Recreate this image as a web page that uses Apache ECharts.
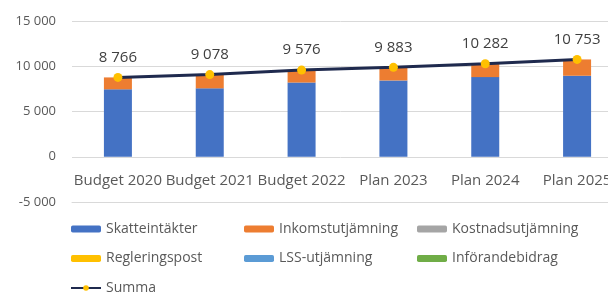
<!DOCTYPE html>
<html>
<head>
<meta charset="utf-8">
<script src="https://cdn.jsdelivr.net/npm/echarts@6/dist/echarts.min.js"></script>
<style>
html, body { margin: 0; padding: 0; background: #fff; }
#chart { width: 608px; height: 293px; }
</style>
</head>
<body>
<div id="chart"></div>
<script>
var categories = ['Budget 2020', 'Budget 2021', 'Budget 2022', 'Plan 2023', 'Plan 2024', 'Plan 2025'];
var skatteintakter = [7450, 7560, 8200, 8430, 8800, 8950];
var inkomstutjamning = [1316, 1518, 1376, 1453, 1482, 1803];
var kostnadsutjamning = [0, 0, 0, 0, 0, 0];
var regleringspost = [0, 0, 0, 0, 0, 0];
var lssUtjamning = [0, 0, 0, 0, 0, 0];
var inforandebidrag = [0, 0, 0, 0, 0, 0];
var summa = [8766, 9078, 9576, 9883, 10282, 10753];
var yTicks = [-5000, 0, 5000, 10000, 15000];

var font = 'Open Sans';
function fmt(v) {
    return String(v).replace(/\B(?=(\d{3})+(?!\d))/g, ' ');
}
function barSeries(name, data, color) {
    return {
        name: name,
        type: 'bar',
        stack: 'total',
        barWidth: 28,
        itemStyle: { color: color },
        data: data
    };
}

var dom = document.getElementById('chart');
var myChart = echarts.init(dom);
var legendText = { color: '#595959', fontFamily: font, fontSize: 14 };
function legendAt(left, names) {
    return {
        left: left, top: 222, height: 90, padding: 0,
        orient: 'vertical', itemGap: 15.5,
        itemWidth: 30, itemHeight: 7, textStyle: legendText,
        data: names
    };
}
var option = {
    animation: false,
    textStyle: { fontFamily: font },
    grid: {
        left: 72, width: 551, top: 21, bottom: 91,
        containLabel: false, outerBoundsMode: 'none'
    },
    legend: [
        legendAt(70, ['Skatteintäkter', 'Regleringspost', 'Summa']),
        legendAt(244, ['Inkomstutjämning', 'LSS-utjämning']),
        legendAt(417, ['Kostnadsutjämning', 'Införandebidrag'])
    ],
    xAxis: {
        type: 'category',
        data: categories,
        axisLine: { onZero: false, lineStyle: { color: '#d9d9d9' } },
        axisTick: { show: false },
        axisLabel: {
            interval: 0, hideOverlap: false, margin: -29,
            color: '#595959', fontSize: 15, fontFamily: font
        }
    },
    yAxis: {
        type: 'value',
        min: yTicks[0],
        max: yTicks[yTicks.length - 1],
        interval: 5000,
        axisLine: { show: false },
        axisTick: { show: false },
        splitLine: { lineStyle: { color: '#d9d9d9' } },
        axisLabel: {
            margin: 16, color: '#595959', fontSize: 13, fontFamily: font,
            formatter: function (v) { return fmt(v); }
        }
    },
    series: [
        barSeries('Skatteintäkter', skatteintakter, '#4472c4'),
        barSeries('Inkomstutjämning', inkomstutjamning, '#ed7d31'),
        barSeries('Kostnadsutjämning', kostnadsutjamning, '#a5a5a5'),
        barSeries('Regleringspost', regleringspost, '#ffc000'),
        barSeries('LSS-utjämning', lssUtjamning, '#5b9bd5'),
        barSeries('Införandebidrag', inforandebidrag, '#70ad47'),
        {
            name: 'Summa',
            type: 'line',
            data: summa,
            symbol: 'circle',
            symbolSize: 9,
            lineStyle: { color: '#1f2a4e', width: 3 },
            itemStyle: { color: '#ffc000', borderWidth: 0 },
            label: {
                show: true,
                position: 'top',
                distance: 8,
                color: '#404040',
                fontSize: 15,
                fontFamily: font,
                formatter: function (p) { return fmt(p.value); }
            },
            z: 5
        }
    ]
};
myChart.setOption(option);
</script>
</body>
</html>
